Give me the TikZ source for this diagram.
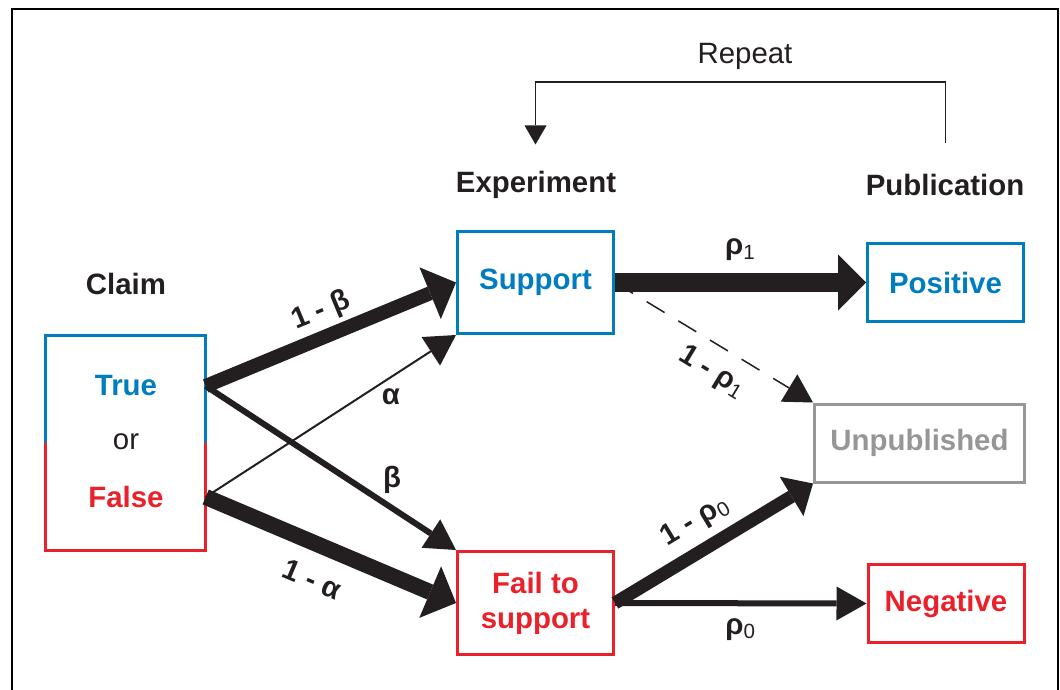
\documentclass[tikz,border=0pt]{standalone}
\usepackage{fontspec}
\setmainfont{Liberation Sans}
\usetikzlibrary{arrows.meta}

\definecolor{claimblue}{RGB}{0,125,190}
\definecolor{claimred}{RGB}{234,32,42}
\definecolor{ungray}{RGB}{150,150,150}
\definecolor{arrowblack}{RGB}{35,31,32}

\begin{document}
\begin{tikzpicture}[x=0.5pt,y=-0.5pt,
  txt/.style={font=\fontsize{14.7}{17.5}\selectfont,text=arrowblack},
  head/.style={font=\fontsize{14.7}{17.5}\selectfont\bfseries,text=arrowblack},
  box/.style={rectangle,draw,line width=1.5pt,minimum width=78pt,minimum height=51pt,
    inner sep=0pt,align=center,font=\fontsize{14.7}{17.5}\selectfont\bfseries},
  pbox/.style={box,minimum height=39pt},
  lab/.style={font=\fontsize{14.7}{17.5}\selectfont\bfseries,inner sep=1pt,text=arrowblack},
  flow/.style={draw=arrowblack,-{Triangle[length=14pt,width=28pt,line width=0pt]}},
  thin flow/.style={draw=arrowblack,-{Triangle[length=15pt,width=17pt,line width=0pt]}}]

\useasboundingbox (0,0) rectangle (1060,690);

% frame
\draw[line width=1pt] (12,690) |- (1058,9.5) -- (1058,690);

% claim node
\node[head] (claim label) at (126,284) {Claim};
\node[box,draw=none,minimum width=78.5pt,minimum height=106pt] (claim) at (125.7,442.5) {};
\draw[line width=1.5pt,claimblue] (claim.west) -- (claim.north west) -- (claim.north east) -- (claim.east);
\draw[line width=1.5pt,claimred] (claim.west) -- (claim.south west) -- (claim.south east) -- (claim.east);
\node[head,text=claimblue] (true) at (126,386) {True};
\node[txt] (or) at (126,441.5) {or};
\node[head,text=claimred] (false) at (126,497) {False};

% experiment nodes
\node[head] (experiment) at (536,185) {Experiment};
\node[box,draw=claimblue,text=claimblue] (support) at (535.5,282.5) {Support};
\node[box,draw=claimred,text=claimred,minimum height=51.5pt] (fail) at (535.5,603) {Fail to\\support};

% publication nodes
\node[head] (publication) at (945,185) {Publication};
\node[pbox,draw=claimblue,text=claimblue] (positive) at (945.5,282.5) {Positive};
\node[pbox,draw=ungray,text=ungray,minimum width=105pt] (unpublished) at (919.5,443) {Unpublished};
\node[pbox,draw=claimred,text=claimred] (negative) at (946,603.5) {Negative};

% repeat loop
\node[txt] (repeat) at (745,56) {Repeat};
\coordinate (repeat start) at (945.5,143);
\coordinate (repeat end) at (535.5,144.5);
\draw[line width=0.75pt,draw=arrowblack,-{Triangle[length=9.5pt,width=11pt,line width=0pt]}]
  (repeat start) -- ++(0,-61) -| (repeat end);

% claim -> experiment
\draw[flow,line width=7pt] (claim.east |- true) -- node[lab,sloped,above=1.3pt] {1 - β} (support.west);
\draw[thin flow,line width=1pt] (claim.east |- false) -- node[lab,pos=0.74,below=4.5pt] {α} (support.south west);
\draw[thin flow,line width=3pt] (claim.east |- true) -- node[lab,pos=0.745,above=4.9pt] {β} (fail.north west);
\draw[flow,line width=8pt] (claim.east |- false) -- node[lab,sloped,pos=0.48,below=7pt] {1 - α} (fail.west);

% experiment -> publication
\draw[flow,line width=9.5pt] (support.east) -- node[lab,above=5pt] {ρ\textsubscript{\mdseries 1}} (positive.west);
\draw[draw=arrowblack,line width=0.75pt,dash pattern=on 10.5pt off 8pt,-{Triangle[length=14pt,width=16pt,line width=0pt]}]
  (support.east) -- node[lab,sloped,pos=0.56,below=5.5pt] {1 - ρ\textsubscript{\mdseries 1}} (unpublished.north west);
\draw[draw=arrowblack,line width=6.5pt,-{Triangle[length=12.5pt,width=23pt,line width=0pt]}]
  (fail.east) -- node[lab,sloped,pos=0.48,above=3.3pt] {1 - ρ\textsubscript{\mdseries 0}} (unpublished.south west);
\draw[thin flow,line width=3pt] (fail.east) -- node[lab,below=5pt] {ρ\textsubscript{\mdseries 0}} (negative.west);

\end{tikzpicture}
\end{document}
